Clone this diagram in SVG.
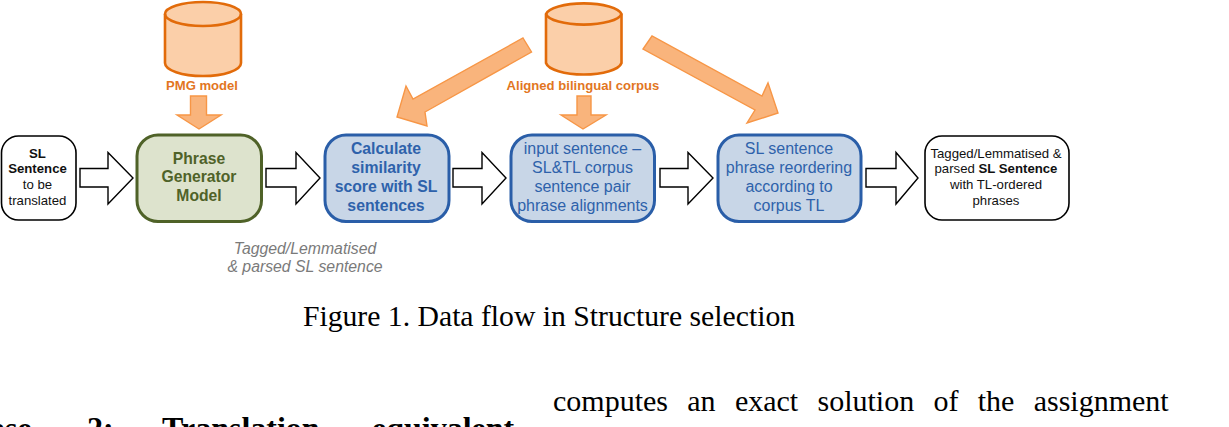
<svg xmlns="http://www.w3.org/2000/svg" width="1229" height="427" viewBox="0 0 1229 427">
<style>
text{font-family:"Liberation Sans",Arial,sans-serif;text-anchor:middle}
.bl{fill:#2e62ab;font-size:16px}
.blb{fill:#2e62ab;font-size:15.8px;font-weight:bold}
.b{font-weight:bold}
.k{fill:#111;font-size:13.2px}
.or{fill:#e2761f;font-size:13.1px;font-weight:bold}
.gr{fill:#4f6228;font-size:15.7px;font-weight:bold}
.it{fill:#7a7a7a;font-size:15.8px;font-style:italic}
.t{font-family:"Liberation Serif","Times New Roman",serif;fill:#000;font-size:30px}
.cyl{fill:#fbcfa9;stroke:#e26b0a;stroke-width:2.6}
.cyt{fill:none;stroke:#e26b0a;stroke-width:2.6}
.oa{fill:#f9b47c;stroke:#f79646;stroke-width:1.4}
.wa{fill:#fff;stroke:#000;stroke-width:1.4}
.wb{fill:#fff;stroke:#000;stroke-width:1.6}
.bb{fill:#c8d6e7;stroke:#2a5ea8;stroke-width:3}
</style>
<g id="connectors">
<polygon class="wa" points="80,168.500 108,168.500 108,152.500 133,178 108,204 108,187 80,187"/>
<polygon class="wa" points="266,168.500 296,168.500 296,152.500 320,178 296,204 296,187 266,187"/>
<polygon class="wa" points="453,168.500 482,168.500 482,152.500 506,178 482,204 482,187 453,187"/>
<polygon class="wa" points="660,168.500 688,168.500 688,152.500 713,178 688,204 688,187 660,187"/>
<polygon class="wa" points="866,168.500 896,168.500 896,152.500 918,178 896,204 896,187 866,187"/>
<polygon class="oa" points="190.500,96 206.500,96 206.500,115 221,115 199,129 177,115 190.500,115"/>
<polygon class="oa" points="577,96 591,96 591,115 606,115 583,129 561,115 577,115"/>
<polygon class="oa" points="523,38 531.500,52 425,112 427,126 397,117 406,86 413,99"/>
<polygon class="oa" points="652,36 643,49 755,110 747,123 778,113 768,83 762,96"/>
</g>
<g id="pmg-model">
<path class="cyl" d="M165 14A38 12 0 0 1 241 14V63A38 13 0 0 1 165 63Z"/>
<path class="cyt" d="M165 14A38 12 0 0 0 241 14"/>
<text class="or" x="202" y="90">PMG model</text>
</g>
<g id="corpus">
<path class="cyl" d="M546 14A38 12 0 0 1 621.500 14V63A38 13 0 0 1 546 63Z"/>
<path class="cyt" d="M546 14A38 12 0 0 0 621.500 14"/>
<text class="or" x="583" y="90">Aligned bilingual corpus</text>
</g>
<g id="sl-sentence">
<rect class="wb" x="1.500" y="136" width="74.500" height="84" rx="17"/>
<text class="k b" x="37.500" y="158">SL</text>
<text class="k b" x="37.500" y="173">Sentence</text>
<text class="k" x="37.500" y="189">to be</text>
<text class="k" x="37.500" y="205">translated</text>
</g>
<g id="phrase-generator">
<rect x="137" y="135" width="124.500" height="86.500" rx="21" fill="#dde3cd" stroke="#4f6228" stroke-width="3"/>
<text class="gr" x="199" y="163.500">Phrase</text>
<text class="gr" x="199" y="182">Generator</text>
<text class="gr" x="199" y="201">Model</text>
</g>
<g id="similarity">
<rect class="bb" x="325" y="135" width="124" height="86.500" rx="21"/>
<text class="blb" x="386" y="154">Calculate</text>
<text class="blb" x="386" y="173">similarity</text>
<text class="blb" x="386" y="192">score with SL</text>
<text class="blb" x="386" y="211">sentences</text>
</g>
<g id="alignments">
<rect class="bb" x="511" y="135" width="143.500" height="86.500" rx="21"/>
<text class="bl" x="582.500" y="154">input sentence –</text>
<text class="bl" x="582.500" y="173">SL&amp;TL corpus</text>
<text class="bl" x="582.500" y="192">sentence pair</text>
<text class="bl" x="582.500" y="211">phrase alignments</text>
</g>
<g id="reordering">
<rect class="bb" x="718" y="135" width="143" height="86.500" rx="21"/>
<text class="bl" x="789" y="154">SL sentence</text>
<text class="bl" x="789" y="173">phrase reordering</text>
<text class="bl" x="789" y="192">according to</text>
<text class="bl" x="789" y="211">corpus TL</text>
</g>
<g id="output">
<rect class="wb" x="925" y="136" width="144" height="84" rx="17"/>
<text class="k" x="996" y="158">Tagged/Lemmatised &amp;</text>
<text class="k" x="996" y="173">parsed <tspan class="b">SL Sentence</tspan></text>
<text class="k" x="996" y="189">with TL-ordered</text>
<text class="k" x="996" y="205">phrases</text>
</g>
<g id="note">
<text class="it" x="305" y="254">Tagged/Lemmatised</text>
<text class="it" x="305" y="272">&amp; parsed SL sentence</text>
</g>
<g id="caption">
<text class="t" x="549" y="326" style="font-size:29.7px">Figure 1. Data flow in Structure selection</text>
<text class="t" x="553" y="411" style="text-anchor:start;word-spacing:11.800px">computes an exact solution of the assignment</text>
<text class="t b" x="-11" y="439" style="text-anchor:start;font-size:32px">ase</text>
<text class="t b" x="87" y="439" style="text-anchor:start;font-size:32px">2:</text>
<text class="t b" x="162" y="439" style="text-anchor:start;font-size:32px">Translation</text>
<text class="t b" x="372" y="439" style="text-anchor:start;font-size:32px">equivalent</text>
</g>
</svg>
